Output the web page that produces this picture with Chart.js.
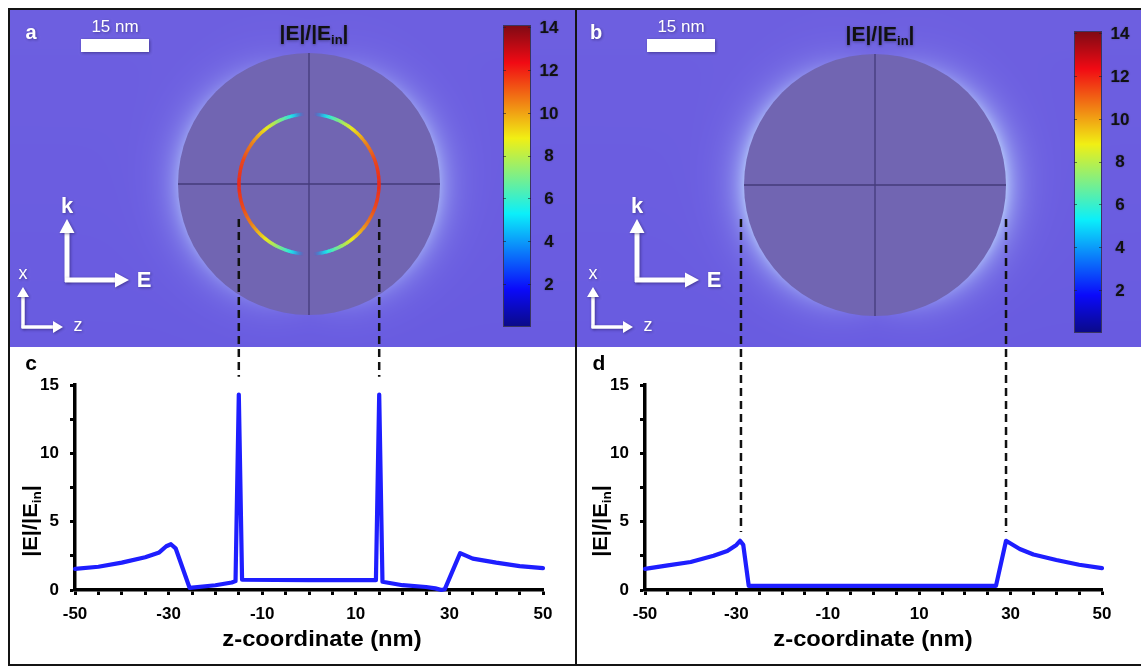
<!DOCTYPE html>
<html>
<head>
<meta charset="utf-8">
<script src="https://cdn.jsdelivr.net/npm/chart.js@4.4.1/dist/chart.umd.min.js"></script>
<style>
  body { margin: 0; background: #fff; width: 1141px; height: 667px; overflow: hidden; position: relative; }
  canvas { position: absolute; }
  #left { left: 10px; top: 10px; }
  #right { left: 577px; top: 10px; }
  .rule { position: absolute; background: #141414; }
</style>
</head>
<body>
<canvas id="left" width="565" height="655"></canvas>
<canvas id="right" width="564" height="655"></canvas>
<div class="rule" style="left:8px;top:8px;width:1133px;height:2px"></div>
<div class="rule" style="left:8px;top:8px;width:2px;height:658px"></div>
<div class="rule" style="left:8px;top:664px;width:1133px;height:2px"></div>
<div class="rule" style="left:575px;top:8px;width:2px;height:658px"></div>
<script>
// |E|/|Ein| along z through the sphere centre (panel c: with shell, panel d: core only)
const zShell = [-50, -45, -40, -35, -32, -30.5, -29.5, -28.5, -25.5, -20, -16.5, -15.7, -15, -14.3, 0, 14.3, 15, 15.7, 20, 25, 27, 28.3, 29, 32.3, 35, 40, 45, 50];
const eShell = [1.55, 1.7, 2.0, 2.4, 2.75, 3.2, 3.35, 3.05, 0.15, 0.35, 0.55, 0.65, 14.3, 0.75, 0.72, 0.72, 14.3, 0.6, 0.35, 0.22, 0.12, 0.0, 0.05, 2.7, 2.3, 2.0, 1.75, 1.6];
const zCore = [-50, -45, -40, -35, -32, -30, -29.2, -28.5, -27.3, -10, 10, 26.8, 29, 30, 32, 35, 40, 45, 50];
const eCore = [1.55, 1.8, 2.05, 2.5, 2.85, 3.3, 3.6, 3.3, 0.3, 0.3, 0.3, 0.3, 3.6, 3.4, 3.0, 2.6, 2.2, 1.85, 1.6];

const xLabels = [-50, -30, -10, 10, 30, 50];
const yLabels = [0, 5, 10, 15];
const colorbarTicks = [2, 4, 6, 8, 10, 12, 14];

// colour level along the shell ring in panel a (angle from the z axis, degrees)
const ringAngle = [0, 20, 35, 50, 62, 72, 80, 86];
const ringLevel = [11.8, 11.3, 10.4, 9.0, 7.5, 6.0, 4.8, 3.5];

// where the dashed guides sit (z, nm)
const guidesShell = [-15, 15];
const guidesCore = [-29, 29];

const FONT = '"Liberation Sans", Arial, sans-serif';

function jetRGB(t) {
    const c = v => Math.max(0, Math.min(1, v));
    return [c(1.5 - Math.abs(4 * t - 3)), c(1.5 - Math.abs(4 * t - 2)), c(1.5 - Math.abs(4 * t - 1))];
}

function jet(t, mute = 0) {
    const base = [110, 96, 200];
    const rgb = jetRGB(t).map((v, i) => Math.round(v * 255 * (1 - mute) + base[i] * mute));
    return `rgb(${rgb[0]},${rgb[1]},${rgb[2]})`;
}

function interp(xs, ys, x) {
    if (x <= xs[0]) return ys[0];
    for (let i = 1; i < xs.length; i++) {
        if (x <= xs[i]) {
            const f = (x - xs[i - 1]) / (xs[i] - xs[i - 1]);
            return ys[i - 1] + f * (ys[i] - ys[i - 1]);
        }
    }
    return ys[ys.length - 1];
}

// "|E|/|Ein|" with a subscript, centred on x,y
function drawRatio(ctx, x, y, size) {
    const main = `bold ${size}px ${FONT}`;
    const sub = `bold ${Math.round(size * 0.62)}px ${FONT}`;
    ctx.font = main;
    const w1 = ctx.measureText('|E|/|E').width;
    const w3 = ctx.measureText('|').width;
    ctx.font = sub;
    const w2 = ctx.measureText('in').width;
    const sx = x - (w1 + w2 + w3) / 2;
    ctx.textAlign = 'left';
    ctx.textBaseline = 'middle';
    ctx.font = main;
    ctx.fillText('|E|/|E', sx, y);
    ctx.font = sub;
    ctx.fillText('in', sx + w1, y + size * 0.3);
    ctx.font = main;
    ctx.fillText('|', sx + w1 + w2, y);
}

function arrow(ctx, x1, y1, x2, y2, lw, headLen, headHalf) {
    const ang = Math.atan2(y2 - y1, x2 - x1);
    const bx = x2 - Math.cos(ang) * headLen, by = y2 - Math.sin(ang) * headLen;
    ctx.lineWidth = lw;
    ctx.beginPath();
    ctx.moveTo(x1, y1);
    ctx.lineTo(bx, by);
    ctx.stroke();
    ctx.beginPath();
    ctx.moveTo(x2, y2);
    ctx.lineTo(bx - Math.sin(ang) * headHalf, by + Math.cos(ang) * headHalf);
    ctx.lineTo(bx + Math.sin(ang) * headHalf, by - Math.cos(ang) * headHalf);
    ctx.closePath();
    ctx.fill();
}

// purple field with the light halo around the sphere, strongest along z
function fieldImage(p) {
    const w = p.w, h = 337;
    const off = document.createElement('canvas');
    off.width = w; off.height = h;
    const octx = off.getContext('2d');
    const img = octx.createImageData(w, h);
    const base = [109, 95, 224], halo = [195, 220, 255];
    for (let y = 0; y < h; y++) {
        for (let x = 0; x < w; x++) {
            const dx = x + p.ox - p.cx, dy = y + 10 - p.cy;
            const d = Math.hypot(dx, dy);
            let k = 0;
            if (d > p.r - 3) {
                const c = Math.abs(dx) / Math.max(d, 1);
                const dir = 0.12 + 0.88 * Math.pow(c, 1.4);
                k = p.glow * dir * Math.exp(-Math.max(0, d - p.r) / 13);
            }
            const shade = 1 - 0.04 * (y / h);
            const i = (y * w + x) * 4;
            img.data[i] = (base[0] + (halo[0] - base[0]) * k) * shade;
            img.data[i + 1] = (base[1] + (halo[1] - base[1]) * k) * shade;
            img.data[i + 2] = base[2] + (halo[2] - base[2]) * k;
            img.data[i + 3] = 255;
        }
    }
    octx.putImageData(img, 0, 0);
    return off;
}

function drawField(ctx, p) {
    if (!p.bg) p.bg = fieldImage(p);
    ctx.drawImage(p.bg, p.ox, 10);

    // sphere
    ctx.fillStyle = '#7165b2';
    ctx.beginPath();
    ctx.arc(p.cx, p.cy, p.r, 0, Math.PI * 2);
    ctx.fill();
    ctx.strokeStyle = 'rgba(50,42,100,0.7)';
    ctx.lineWidth = 1.3;
    ctx.beginPath();
    ctx.moveTo(p.cx - p.r, p.cy); ctx.lineTo(p.cx + p.r, p.cy);
    ctx.moveTo(p.cx, p.cy - p.r); ctx.lineTo(p.cx, p.cy + p.r);
    ctx.stroke();

    // hot shell ring
    if (p.ring) {
        ctx.lineWidth = 3.4;
        for (let a = -86; a < 86; a += 1) {
            const lvl = interp(ringAngle, ringLevel, Math.abs(a + 0.5));
            const alpha = Math.abs(a + 0.5) > 74 ? Math.max(0, (86 - Math.abs(a + 0.5)) / 12) : 1;
            ctx.strokeStyle = jet(lvl / 14, 0.12);
            ctx.globalAlpha = alpha;
            for (const base of [0, 180]) {
                const s = base === 0 ? a : 180 - a - 1;
                ctx.beginPath();
                ctx.arc(p.cx, p.cy, p.ringR, s * Math.PI / 180, (s + 1.3) * Math.PI / 180);
                ctx.stroke();
            }
        }
        ctx.globalAlpha = 1;
    }

    // colour bar
    const cbH = 302;
    const grad = ctx.createLinearGradient(0, p.cbTop + cbH, 0, p.cbTop);
    for (let i = 0; i <= 16; i++) grad.addColorStop(i / 16, jet(i / 16, 0.1));
    ctx.fillStyle = grad;
    ctx.fillRect(p.cbX, p.cbTop, 28, cbH);
    ctx.strokeStyle = '#3a3560';
    ctx.lineWidth = 1;
    ctx.strokeRect(p.cbX + 0.5, p.cbTop + 0.5, 27, cbH - 1);
    ctx.fillStyle = '#111';
    ctx.font = `bold 17px ${FONT}`;
    ctx.textAlign = 'center';
    ctx.textBaseline = 'middle';
    ctx.shadowColor = 'rgba(0,0,0,0.3)';
    ctx.shadowBlur = 2;
    colorbarTicks.forEach(v => {
        const y = p.cbTop + cbH - v * cbH / 14.1;
        ctx.fillText(String(v), p.cbX + 46, y + 1);
    });
    ctx.shadowBlur = 0;
    ctx.strokeStyle = 'rgba(30,30,50,0.6)';
    colorbarTicks.forEach(v => {
        const y = Math.round(p.cbTop + cbH - v * cbH / 14.1) + 0.5;
        ctx.beginPath();
        ctx.moveTo(p.cbX, y); ctx.lineTo(p.cbX + 3, y);
        ctx.moveTo(p.cbX + 25, y); ctx.lineTo(p.cbX + 28, y);
        ctx.stroke();
    });

    // title
    ctx.fillStyle = '#111';
    ctx.shadowColor = 'rgba(0,0,0,0.35)';
    ctx.shadowBlur = 3;
    ctx.shadowOffsetY = 1;
    drawRatio(ctx, p.titleX, p.titleY, 21);

    // white annotations
    ctx.fillStyle = '#fff';
    ctx.strokeStyle = '#fff';
    ctx.shadowColor = 'rgba(20,10,60,0.45)';
    ctx.shadowBlur = 3;
    ctx.shadowOffsetX = 1;
    ctx.shadowOffsetY = 1;
    ctx.textAlign = 'center';
    ctx.textBaseline = 'middle';
    ctx.font = `bold 20px ${FONT}`;
    ctx.fillText(p.letter, p.letterX, 33);
    ctx.font = `17px ${FONT}`;
    ctx.fillText('15 nm', p.barX + 34, 27);
    ctx.fillRect(p.barX, 39, 68, 13);

    const ax = p.arrowX;
    arrow(ctx, 67 + ax, 282, 67 + ax, 219, 5, 14, 7.5);
    arrow(ctx, 65 + ax, 280, 129 + ax, 280, 5, 14, 7.5);
    ctx.font = `bold 22px ${FONT}`;
    ctx.fillText('k', 67 + ax, 207);
    ctx.fillText('E', 144 + ax, 281);
    arrow(ctx, 23 + ax, 328, 23 + ax, 287, 3.5, 10, 6);
    arrow(ctx, 21.5 + ax, 327, 63 + ax, 327, 3.5, 10, 6);
    ctx.font = `18px ${FONT}`;
    ctx.fillText('x', 23 + ax, 274);
    ctx.fillText('z', 78 + ax, 326);
    ctx.shadowColor = 'transparent';
    ctx.shadowBlur = 0;
    ctx.shadowOffsetX = 0;
    ctx.shadowOffsetY = 0;
}

const panels = {
    left: {
        ox: 10, w: 565, letter: 'a', letterX: 31, barX: 81, titleX: 314, titleY: 34,
        cx: 309, cy: 184, r: 131, ringR: 70, ring: true, glow: 0.55,
        cbX: 503, cbTop: 25, arrowX: 0, axisLeft: 65, padRight: 32,
        sub: 'c', subX: 31, xTitleX: 322, yTitleX: 31,
        guides: guidesShell, guideEnd: 15.6
    },
    right: {
        ox: 577, w: 564, letter: 'b', letterX: 596, barX: 647, titleX: 880, titleY: 35,
        cx: 875, cy: 185, r: 131, ringR: 70, ring: false, glow: 0.75,
        cbX: 1074, cbTop: 31, arrowX: 570, axisLeft: 68, padRight: 39,
        sub: 'd', subX: 599, xTitleX: 873, yTitleX: 601,
        guides: guidesCore, guideEnd: 4.25
    }
};

function makeProfile(id, zs, es) {
    const p = panels[id];
    const tickFont = { family: FONT, size: 17, weight: 'bold' };
    const fieldPlugin = {
        id: 'field-' + id,
        beforeDraw(chart) {
            const ctx = chart.ctx;
            ctx.save();
            ctx.translate(-p.ox, -10);
            drawField(ctx, p);
            ctx.restore();
        },
        afterDraw(chart) {
            const ctx = chart.ctx;
            const xs = chart.scales.x, ys = chart.scales.y;
            ctx.save();
            // dashed guides linking the map to the profile
            ctx.strokeStyle = '#111';
            ctx.lineWidth = 2.5;
            ctx.setLineDash([8, 5]);
            p.guides.forEach(z => {
                const x = xs.getPixelForValue(z);
                ctx.beginPath();
                ctx.moveTo(x, 219 - 10);
                ctx.lineTo(x, ys.getPixelForValue(p.guideEnd));
                ctx.stroke();
            });
            ctx.setLineDash([]);
            ctx.translate(-p.ox, -10);
            ctx.fillStyle = '#000';
            ctx.textAlign = 'center';
            ctx.textBaseline = 'middle';
            ctx.font = `bold 21px ${FONT}`;
            ctx.fillText(p.sub, p.subX, 364);
            // axis titles, slightly widened like the source figure
            ctx.save();
            ctx.translate(p.xTitleX, 640);
            ctx.scale(1.08, 1);
            ctx.font = `bold 22px ${FONT}`;
            ctx.fillText('z-coordinate (nm)', 0, 0);
            ctx.restore();
            ctx.save();
            ctx.translate(p.yTitleX, 521);
            ctx.rotate(-Math.PI / 2);
            ctx.scale(1.04, 1);
            drawRatio(ctx, 0, 0, 21);
            ctx.restore();
            ctx.restore();
        }
    };
    return new Chart(document.getElementById(id), {
        type: 'line',
        data: {
            datasets: [{
                data: zs.map((z, i) => ({ x: z, y: es[i] })),
                borderColor: '#1e1eff',
                borderWidth: 4.2,
                pointRadius: 0,
                tension: 0,
                fill: false,
                clip: false,
                borderJoinStyle: 'round',
                borderCapStyle: 'round'
            }]
        },
        options: {
            responsive: false,
            animation: false,
            events: [],
            layout: { padding: { top: 375, right: p.padRight, bottom: 45, left: 0 } },
            plugins: { legend: { display: false }, tooltip: { enabled: false } },
            scales: {
                x: {
                    type: 'linear',
                    min: -50,
                    max: 50,
                    afterFit: s => { s.height = 30; },
                    grid: { drawOnChartArea: false, drawTicks: true, tickLength: 5, tickWidth: 3, tickColor: '#000' },
                    border: { display: true, color: '#000', width: 3.5 },
                    ticks: {
                        stepSize: 5,
                        autoSkip: false,
                        maxRotation: 0,
                        padding: 9,
                        color: '#000',
                        font: tickFont,
                        callback: v => xLabels.includes(v) ? String(v) : ''
                    }
                },
                y: {
                    min: 0,
                    max: 15,
                    afterFit: s => { s.width = p.axisLeft; },
                    grid: { drawOnChartArea: false, drawTicks: true, tickLength: 5, tickWidth: 3, tickColor: '#000' },
                    border: { display: true, color: '#000', width: 3.5 },
                    ticks: {
                        stepSize: 2.5,
                        autoSkip: false,
                        padding: 11,
                        color: '#000',
                        font: tickFont,
                        callback: v => yLabels.includes(v) ? String(v) : ''
                    }
                }
            }
        },
        plugins: [fieldPlugin]
    });
}

makeProfile('left', zShell, eShell);
makeProfile('right', zCore, eCore);
</script>
</body>
</html>
